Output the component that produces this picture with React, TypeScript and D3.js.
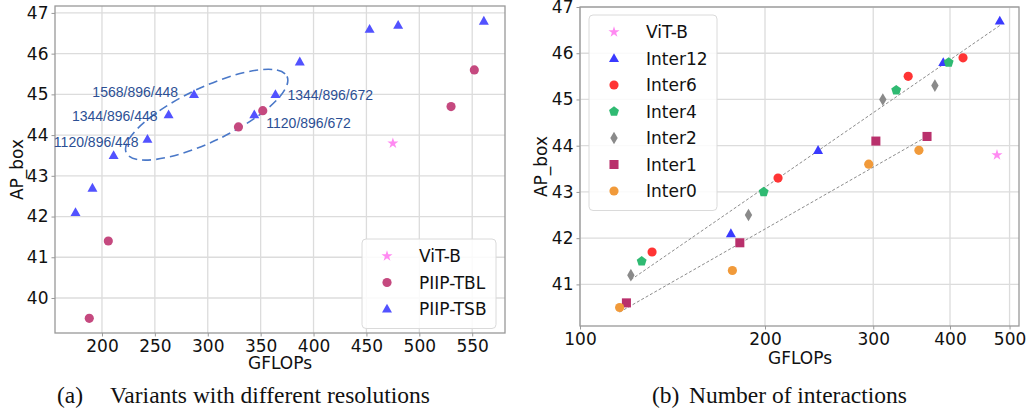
import React, { useRef, useEffect } from "react";
import * as d3 from "d3";

// (a) variants with different resolutions
const vitbA = [{ g: 475, ap: 43.8 }];
const piipTBL = [
  { g: 188, ap: 39.5 }, { g: 206, ap: 41.4 }, { g: 329, ap: 44.2 },
  { g: 352, ap: 44.6 }, { g: 530, ap: 44.7 }, { g: 552, ap: 45.6 },
];
const piipTSB = [
  { g: 175, ap: 42.1 }, { g: 191, ap: 42.7 }, { g: 211, ap: 43.5 },
  { g: 243, ap: 43.9 }, { g: 263, ap: 44.5 }, { g: 287, ap: 45.0 },
  { g: 344, ap: 44.5 }, { g: 364, ap: 45.0 }, { g: 387, ap: 45.8 },
  { g: 453, ap: 46.6 }, { g: 480, ap: 46.7 }, { g: 561, ap: 46.8 },
];
const resLabels = [
  { g: 287, ap: 45.0, label: "1568/896/448" },
  { g: 263, ap: 44.5, label: "1344/896/448" },
  { g: 243, ap: 43.9, label: "1120/896/448" },
  { g: 364, ap: 45.0, label: "1344/896/672" },
  { g: 344, ap: 44.5, label: "1120/896/672" },
];
const ellipseCenter = { g: 299, ap: 44.5 };
const xTicksA = [200, 250, 300, 350, 400, 450, 500, 550];
const yTicksA = [40, 41, 42, 43, 44, 45, 46, 47];

// (b) number of interactions
const vitbB = [{ g: 477, ap: 43.8 }];
const inter12 = [{ g: 176, ap: 42.1 }, { g: 244, ap: 43.9 }, { g: 390, ap: 45.8 }, { g: 482, ap: 46.7 }];
const inter6 = [{ g: 131, ap: 41.7 }, { g: 210, ap: 43.3 }, { g: 342, ap: 45.5 }, { g: 420, ap: 45.9 }];
const inter4 = [{ g: 126, ap: 41.5 }, { g: 199, ap: 43.0 }, { g: 327, ap: 45.2 }, { g: 398, ap: 45.8 }];
const inter2 = [{ g: 121, ap: 41.2 }, { g: 188, ap: 42.5 }, { g: 311, ap: 45.0 }, { g: 378, ap: 45.3 }];
const inter1 = [{ g: 119, ap: 40.6 }, { g: 182, ap: 41.9 }, { g: 303, ap: 44.1 }, { g: 367, ap: 44.2 }];
const inter0 = [{ g: 116, ap: 40.5 }, { g: 177, ap: 41.3 }, { g: 295, ap: 43.6 }, { g: 356, ap: 43.9 }];
const trendUpper = [{ g: 121, ap: 41.1 }, { g: 482, ap: 46.6 }];
const trendLower = [{ g: 116, ap: 40.4 }, { g: 367, ap: 44.2 }];
const xTicksB = [100, 200, 300, 400, 500];
const yTicksB = [41, 42, 43, 44, 45, 46, 47];

const FONT = "DejaVu Sans, sans-serif";

function markerPath(shape) {
  if (shape === "circle") return d3.symbol(d3.symbolCircle, 66)();
  if (shape === "triangle") return "M0,-5.2L5,3.6L-5,3.6Z";
  if (shape === "square") return d3.symbol(d3.symbolSquare, 82)();
  if (shape === "star") return d3.symbol(d3.symbolStar, 38)();
  if (shape === "diamond") return "M0,-6.3L3.7,0L0,6.3L-3.7,0Z";
  if (shape === "pentagon") {
    const pts = d3.range(5).map((k) => {
      const a = -Math.PI / 2 + (k * 2 * Math.PI) / 5;
      return [5.2 * Math.cos(a), 5.2 * Math.sin(a)];
    });
    return d3.line()(pts) + "Z";
  }
  return "";
}

function drawFrame(svg, x, y, xTicks, yTicks, fmt) {
  const [x0, x1] = x.range();
  const [y0, y1] = y.range();
  const g = svg.append("g");
  // grid
  g.selectAll(null).data(xTicks).enter().append("line")
    .attr("x1", (d) => x(d)).attr("x2", (d) => x(d))
    .attr("y1", y0).attr("y2", y1)
    .attr("stroke", "#dcdcdc").attr("stroke-width", 1.3);
  g.selectAll(null).data(yTicks).enter().append("line")
    .attr("x1", x0).attr("x2", x1)
    .attr("y1", (d) => y(d)).attr("y2", (d) => y(d))
    .attr("stroke", "#dcdcdc").attr("stroke-width", 1.3);

  const ax = svg.append("g")
    .attr("transform", `translate(0,${y0})`)
    .call(d3.axisBottom(x).tickValues(xTicks).tickFormat(fmt).tickSize(3.5).tickPadding(3));
  const ay = svg.append("g")
    .attr("transform", `translate(${x0},0)`)
    .call(d3.axisLeft(y).tickValues(yTicks).tickFormat(d3.format("d")).tickSize(3.5).tickPadding(3));
  [ax, ay].forEach((a) => {
    a.select(".domain").remove();
    a.selectAll("line").attr("stroke", "#999");
    a.selectAll("text").attr("font-family", FONT).attr("font-size", 17).attr("fill", "#111");
  });

  // spines
  svg.append("rect")
    .attr("x", x0).attr("y", y1)
    .attr("width", x1 - x0).attr("height", y0 - y1)
    .attr("fill", "none").attr("stroke", "#999").attr("stroke-width", 1.3);
}

function drawPoints(svg, data, x, y, shape, color) {
  svg.selectAll(null).data(data).enter().append("path")
    .attr("d", markerPath(shape))
    .attr("transform", (d) => `translate(${x(d.g)},${y(d.ap)})`)
    .attr("fill", color);
}

function drawLegend(svg, items, left, top, width, rowH) {
  svg.append("rect")
    .attr("x", left).attr("y", top)
    .attr("width", width).attr("height", rowH * items.length + 10)
    .attr("rx", 4)
    .attr("fill", "white").attr("fill-opacity", 0.85)
    .attr("stroke", "#dadada");
  items.forEach((it, i) => {
    const cy = top + 17 + i * rowH;
    svg.append("path")
      .attr("d", markerPath(it.shape))
      .attr("transform", `translate(${left + 25},${cy})`)
      .attr("fill", it.color);
    svg.append("text")
      .attr("x", left + 57).attr("y", cy)
      .attr("dy", "0.36em")
      .attr("font-family", FONT).attr("font-size", 17).attr("fill", "#111")
      .text(it.label);
  });
}

const App = () => {
  const ref = useRef(null);

  useEffect(() => {
    const svg = d3.select(ref.current);
    svg.selectAll("*").remove();

    // ---------- (a) ----------
    const xA = d3.scaleLinear().domain([155.6, 581]).range([55, 505]);
    const yA = d3.scaleLinear().domain([39.14, 47.17]).range([333, 6]);
    drawFrame(svg, xA, yA, xTicksA, yTicksA, d3.format("d"));

    // dashed ellipse round the annotated points
    svg.append("ellipse")
      .attr("cx", 0).attr("cy", 0).attr("rx", 89).attr("ry", 27)
      .attr("transform", `translate(${xA(ellipseCenter.g)},${yA(ellipseCenter.ap)}) rotate(-25.5)`)
      .attr("fill", "none")
      .attr("stroke", "#4a78c8").attr("stroke-width", 1.6)
      .attr("stroke-dasharray", "9,5");

    drawPoints(svg, piipTBL, xA, yA, "circle", "#c5497f");
    drawPoints(svg, piipTSB, xA, yA, "triangle", "#5252ff");
    drawPoints(svg, vitbA, xA, yA, "star", "#ff8af2");

    const labelOffsets = [
      { dx: -16, dy: -2, anchor: "end" },
      { dx: -11, dy: 1, anchor: "end" },
      { dx: -9, dy: 3, anchor: "end" },
      { dx: 12, dy: 1, anchor: "start" },
      { dx: 12, dy: 8, anchor: "start" },
    ];
    resLabels.forEach((d, i) => {
      const o = labelOffsets[i];
      svg.append("text")
        .attr("x", xA(d.g) + o.dx).attr("y", yA(d.ap) + o.dy)
        .attr("dy", "0.36em")
        .attr("text-anchor", o.anchor)
        .attr("font-family", "Liberation Sans, Arial, sans-serif")
        .attr("font-size", 14)
        .attr("fill", "#2c4f94")
        .text(d.label);
    });

    drawLegend(svg, [
      { label: "ViT-B", shape: "star", color: "#ff8af2" },
      { label: "PIIP-TBL", shape: "circle", color: "#c5497f" },
      { label: "PIIP-TSB", shape: "triangle", color: "#5252ff" },
    ], 362, 239, 134, 26.5);

    svg.append("text")
      .attr("x", 280).attr("y", 369)
      .attr("text-anchor", "middle")
      .attr("font-family", FONT).attr("font-size", 17).attr("fill", "#111")
      .text("GFLOPs");
    svg.append("text")
      .attr("transform", `translate(23,${(333 + 6) / 2}) rotate(-90)`)
      .attr("text-anchor", "middle")
      .attr("font-family", FONT).attr("font-size", 17).attr("fill", "#111")
      .text("AP_box");

    // ---------- (b) ----------
    const xB = d3.scaleLog().domain([100, 518]).range([580, 1019]);
    const yB = d3.scaleLinear().domain([40.1, 47]).range([326, 7]);
    drawFrame(svg, xB, yB, xTicksB, yTicksB, d3.format("d"));

    const line = d3.line()
      .x((d) => xB(d.g))
      .y((d) => yB(d.ap));
    [trendUpper, trendLower].forEach((t) => {
      svg.append("path")
        .attr("d", line(t))
        .attr("fill", "none")
        .attr("stroke", "#8c8c8c").attr("stroke-width", 1)
        .attr("stroke-dasharray", "3,2");
    });

    const seriesB = [
      { label: "ViT-B", data: vitbB, shape: "star", color: "#ff8af2" },
      { label: "Inter12", data: inter12, shape: "triangle", color: "#3a3aff" },
      { label: "Inter6", data: inter6, shape: "circle", color: "#ff3434" },
      { label: "Inter4", data: inter4, shape: "pentagon", color: "#2fba72" },
      { label: "Inter2", data: inter2, shape: "diamond", color: "#8a8a8a" },
      { label: "Inter1", data: inter1, shape: "square", color: "#b9306c" },
      { label: "Inter0", data: inter0, shape: "circle", color: "#f19a3a" },
    ];
    seriesB.forEach((s) => drawPoints(svg, s.data, xB, yB, s.shape, s.color));

    drawLegend(svg, seriesB, 589, 15, 128, 26.5);

    svg.append("text")
      .attr("x", 800).attr("y", 364)
      .attr("text-anchor", "middle")
      .attr("font-family", FONT).attr("font-size", 17).attr("fill", "#111")
      .text("GFLOPs");
    svg.append("text")
      .attr("transform", `translate(547,${(326 + 7) / 2}) rotate(-90)`)
      .attr("text-anchor", "middle")
      .attr("font-family", FONT).attr("font-size", 17).attr("fill", "#111")
      .text("AP_box");

    // captions
    const cap = (x, t) => svg.append("text")
      .attr("x", x).attr("y", 403)
      .attr("font-family", "Liberation Serif, Times New Roman, serif")
      .attr("font-size", 23.5).attr("fill", "#111")
      .text(t);
    cap(57, "(a)");
    cap(110, "Variants with different resolutions");
    cap(652, "(b)");
    cap(689, "Number of interactions");
  }, []);

  return (
    <svg
      ref={ref}
      width={1029}
      height={410}
      style={{ position: "absolute", left: 0, top: 0, background: "white" }}
    />
  );
};

export default App;
